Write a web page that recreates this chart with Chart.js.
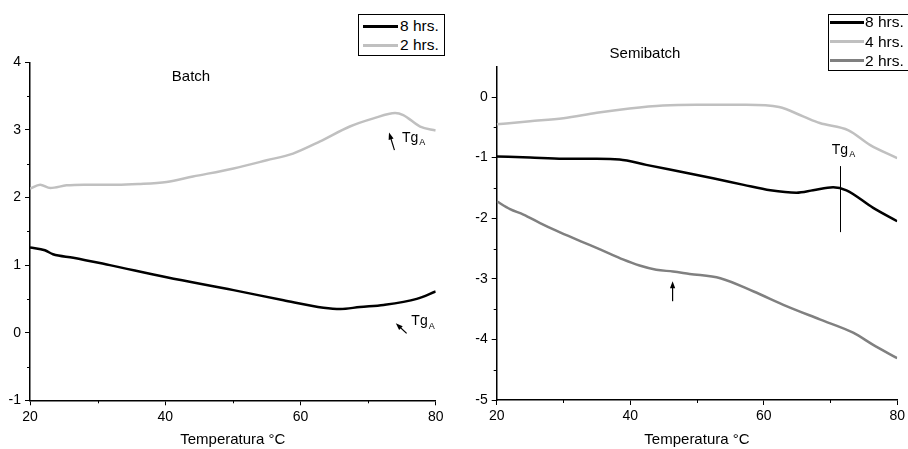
<!DOCTYPE html>
<html>
<head>
<meta charset="utf-8">
<script src="https://cdn.jsdelivr.net/npm/chart.js@4"></script>
<style>
  body { margin: 0; background: #fff; width: 908px; height: 449px; position: relative; overflow: hidden;
         font-family: Arial, "Liberation Sans", sans-serif; color: #000; }
  canvas { position: absolute; top: 0; }
  .title { position: absolute; font-size: 15px; transform: translate(-50%, -50%); white-space: nowrap; }
  .legend { position: absolute; border: 1px solid #000; background: #fff; box-sizing: border-box; }
  .legend .row { position: absolute; left: 0; height: 0; }
  .legend .swatch { position: absolute; height: 3px; top: -1.5px; }
  .legend .lbl { position: absolute; font-size: 15.5px; line-height: 18px; top: -9px; white-space: nowrap; }
</style>
</head>
<body>
<canvas id="batch" width="454" height="449" style="left:0"></canvas>
<canvas id="semi" width="454" height="449" style="left:454px"></canvas>
<div class="title" style="left:191px;top:75px">Batch</div>
<div class="title" style="left:645px;top:52px">Semibatch</div>
<div id="legend-batch" class="legend" style="left:358px;top:14px;width:87px;height:42px"></div>
<div id="legend-semi" class="legend" style="left:828px;top:14px;width:90px;height:57px"></div>
<script>
// ---- Batch panel ----
const batchTemp8 = [20, 22.2, 23.4, 26.4, 31.8, 40.2, 50.1, 57.5, 63.4, 65.9, 68.8, 72.3, 77.2, 80];
const batch8     = [1.26, 1.22, 1.16, 1.11, 1.0, 0.82, 0.63, 0.48, 0.37, 0.35, 0.38, 0.41, 0.50, 0.61];
const batchTemp2 = [20, 21.5, 23, 25.4, 28, 32.8, 36, 40.2, 44.1, 50.1, 55, 58.9, 62.9, 67.3, 70.8, 74, 75.2, 77.7, 80];
const batch2     = [2.13, 2.19, 2.14, 2.18, 2.19, 2.19, 2.20, 2.23, 2.31, 2.43, 2.55, 2.65, 2.83, 3.05, 3.17, 3.25, 3.22, 3.05, 2.99];

// ---- Semibatch panel ----
const semiTemp8 = [20, 25, 30, 35, 38.4, 42.4, 47.4, 52.4, 57, 61, 64.9, 67.4, 70.4, 72.4, 76.4, 80];
const semi8     = [-0.98, -1.0, -1.02, -1.02, -1.03, -1.12, -1.23, -1.34, -1.45, -1.54, -1.58, -1.54, -1.49, -1.54, -1.83, -2.05];
const semiTemp4 = [20, 25, 30, 35, 39.9, 44.9, 49.9, 57.4, 62.3, 65.9, 68.4, 72.7, 75.9, 80];
const semi4     = [-0.45, -0.40, -0.35, -0.26, -0.19, -0.14, -0.127, -0.127, -0.165, -0.32, -0.43, -0.55, -0.79, -1.01];
const semiTemp2 = [20, 22, 24, 26.5, 29, 31.5, 33.9, 36.4, 38.9, 41.4, 43.9, 46.4, 48.9, 53.5, 58.5, 63.4, 68.4, 73.4, 76.4, 80];
const semi2     = [-1.72, -1.85, -1.94, -2.08, -2.21, -2.33, -2.44, -2.56, -2.68, -2.78, -2.85, -2.88, -2.92, -2.99, -3.21, -3.45, -3.67, -3.89, -4.09, -4.31];

const batchLabels = ["8 hrs.", "2 hrs."];
const semiLabels = ["8 hrs.", "4 hrs.", "2 hrs."];

// axis ticks
const xMinor = [30, 50, 70];
const batchMinorY = [-0.5, 0.5, 1.5, 2.5, 3.5];
const semiMinorY = [-4.5, -3.5, -2.5, -1.5, -0.5];

// Tg annotations in data units: arrows are [tailX, tailY, tipX, tipY]
const batchArrows = [[73.9, 2.70, 73.1, 2.96], [75.7, -0.01, 74.1, 0.14]];
const batchTg = [[75.0, 2.88], [76.4, 0.17]];
const semiArrows = [[46.35, -3.37, 46.35, -3.04]];
const semiLines = [[71.5, -1.14, 71.5, -2.23]];
const semiTg = [[70.2, -0.87]];

const BLACK = "#000000", LIGHT = "#c0c0c0", MID = "#808080";

function pts(xs, ys) { return xs.map((x, i) => ({ x, y: ys[i] })); }

function series(label, xs, ys, color) {
  return {
    label, data: pts(xs, ys), borderColor: color, borderWidth: 2.5,
    pointRadius: 0, cubicInterpolationMode: "monotone", fill: false,
  };
}

// short unlabelled ticks between the major ones
const minorTicks = {
  id: "minorTicks",
  afterDraw(chart, args, opts) {
    const { ctx, scales: { x, y } } = chart;
    ctx.save();
    ctx.strokeStyle = "#000";
    ctx.lineWidth = 1;
    (opts.x || []).forEach((v) => {
      const px = Math.round(x.getPixelForValue(v)) + 0.5;
      ctx.beginPath(); ctx.moveTo(px, x.top); ctx.lineTo(px, x.top + 3); ctx.stroke();
    });
    (opts.y || []).forEach((v) => {
      const py = Math.round(y.getPixelForValue(v)) + 0.5;
      ctx.beginPath(); ctx.moveTo(y.right, py); ctx.lineTo(y.right - 3, py); ctx.stroke();
    });
    ctx.restore();
  },
};

function drawTg(ctx, px, py) {
  ctx.font = "14px Arial, 'Liberation Sans', sans-serif";
  ctx.textBaseline = "middle";
  ctx.textAlign = "left";
  ctx.fillText("Tg", px, py);
  const w = ctx.measureText("Tg").width;
  ctx.font = "9px Arial, 'Liberation Sans', sans-serif";
  ctx.fillText("A", px + w + 1, py + 5);
}

const tgNotes = {
  id: "tgNotes",
  afterDraw(chart, args, opts) {
    const { ctx, scales: { x, y } } = chart;
    ctx.save();
    ctx.strokeStyle = "#000";
    ctx.fillStyle = "#000";
    ctx.lineWidth = 1.2;
    (opts.arrows || []).forEach(([tx, ty, hx, hy]) => {
      const x1 = x.getPixelForValue(tx), y1 = y.getPixelForValue(ty);
      const x2 = x.getPixelForValue(hx), y2 = y.getPixelForValue(hy);
      const a = Math.atan2(y2 - y1, x2 - x1), L = 7, W = 2.6;
      ctx.beginPath(); ctx.moveTo(x1, y1);
      ctx.lineTo(x2 - 4 * Math.cos(a), y2 - 4 * Math.sin(a)); ctx.stroke();
      ctx.beginPath(); ctx.moveTo(x2, y2);
      ctx.lineTo(x2 - L * Math.cos(a) + W * Math.sin(a), y2 - L * Math.sin(a) - W * Math.cos(a));
      ctx.lineTo(x2 - L * Math.cos(a) - W * Math.sin(a), y2 - L * Math.sin(a) + W * Math.cos(a));
      ctx.closePath(); ctx.fill();
    });
    ctx.lineWidth = 1;
    (opts.lines || []).forEach(([ax, ay, bx, by]) => {
      const px = Math.round(x.getPixelForValue(ax)) + 0.5;
      ctx.beginPath(); ctx.moveTo(px, y.getPixelForValue(ay));
      ctx.lineTo(Math.round(x.getPixelForValue(bx)) + 0.5, y.getPixelForValue(by)); ctx.stroke();
    });
    (opts.labels || []).forEach(([lx, ly]) => drawTg(ctx, x.getPixelForValue(lx), y.getPixelForValue(ly)));
    ctx.restore();
  },
};

Chart.defaults.font.family = "Arial, 'Liberation Sans', sans-serif";
Chart.defaults.color = "#000";

function makeChart(id, datasets, cfg) {
  return new Chart(document.getElementById(id), {
    type: "line",
    data: { datasets },
    plugins: [minorTicks, tgNotes],
    options: {
      responsive: false,
      animation: false,
      devicePixelRatio: 1,
      layout: { padding: { top: cfg.padTop, right: cfg.padRight, left: 0, bottom: 0 } },
      plugins: {
        legend: { display: false },
        tooltip: { enabled: false },
        minorTicks: { x: xMinor, y: cfg.minorY },
        tgNotes: cfg.notes,
      },
      scales: {
        x: {
          type: "linear", min: 20, max: 80,
          ticks: { stepSize: 20, font: { size: 14 }, padding: 3, color: "#000" },
          grid: { drawOnChartArea: false, color: "#000", tickLength: 5, lineWidth: 1 },
          border: { color: "#000", width: 1.5 },
          title: { display: true, text: "Temperatura °C", font: { size: 15 }, color: "#000", padding: 0 },
          afterFit(s) { s.height = cfg.xHeight; },
        },
        y: {
          type: "linear", min: cfg.yMin, max: cfg.yMax,
          ticks: { stepSize: 1, includeBounds: false, font: { size: 14 }, padding: 4, color: "#000" },
          grid: { drawOnChartArea: false, color: "#000", tickLength: 5, lineWidth: 1 },
          border: { color: "#000", width: 1.5 },
          afterFit(s) { s.width = cfg.yWidth; },
        },
      },
    },
  });
}

const batchColors = [BLACK, LIGHT];
const semiColors = [BLACK, LIGHT, MID];

makeChart("batch", [
  series(batchLabels[0], batchTemp8, batch8, batchColors[0]),
  series(batchLabels[1], batchTemp2, batch2, batchColors[1]),
], {
  yMin: -1, yMax: 4, padTop: 62.3, padRight: 18.3, xHeight: 48.7, yWidth: 30,
  minorY: batchMinorY, notes: { arrows: batchArrows, labels: batchTg },
});

makeChart("semi", [
  series(semiLabels[0], semiTemp8, semi8, semiColors[0]),
  series(semiLabels[1], semiTemp4, semi4, semiColors[1]),
  series(semiLabels[2], semiTemp2, semi2, semiColors[2]),
], {
  yMin: -5, yMax: 0.5, padTop: 66.7, padRight: 10, xHeight: 49, yWidth: 42.7,
  minorY: semiMinorY, notes: { arrows: semiArrows, lines: semiLines, labels: semiTg },
});

// legends built from the same labels / colours
function buildLegend(elId, labels, colors, rowsY, lineX, lineW, textX) {
  const box = document.getElementById(elId);
  labels.forEach((lab, i) => {
    const row = document.createElement("div");
    row.className = "row";
    row.style.top = rowsY[i] + "px";
    row.innerHTML = `<span class="swatch" style="left:${lineX}px;width:${lineW}px;background:${colors[i]}"></span>` +
      `<span class="lbl" style="left:${textX}px">${lab}</span>`;
    box.appendChild(row);
  });
}
buildLegend("legend-batch", batchLabels, batchColors, [11, 30], 4, 35, 41);
buildLegend("legend-semi", semiLabels, semiColors, [7, 26.5, 45.5], 1, 34, 36);
</script>
</body>
</html>
